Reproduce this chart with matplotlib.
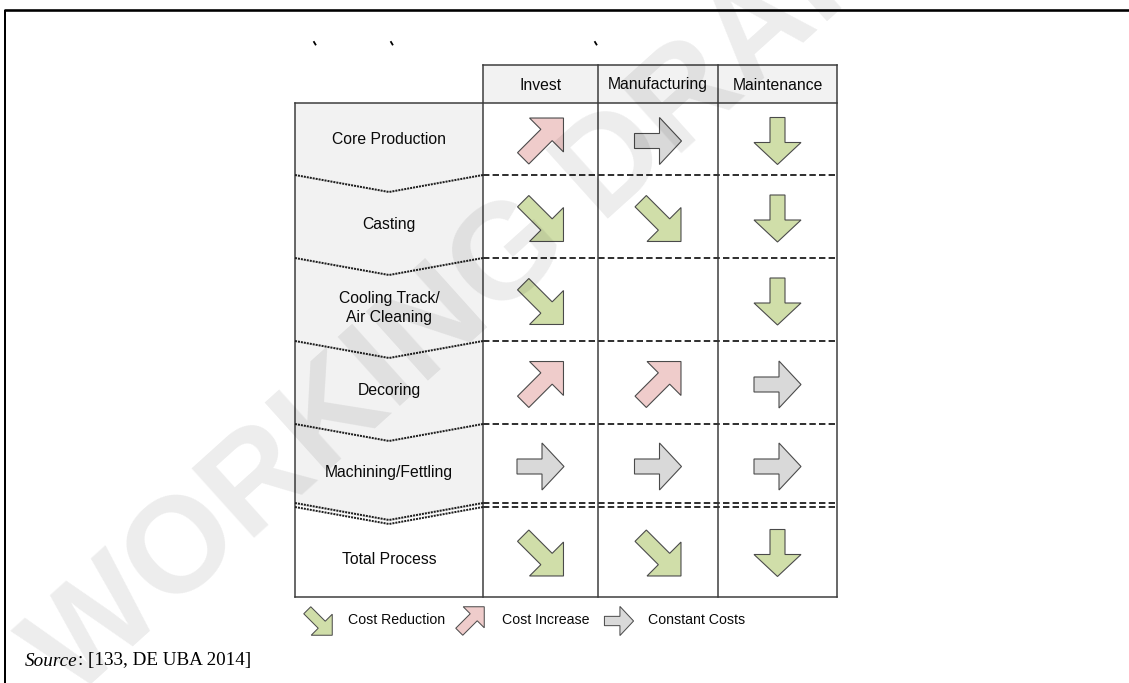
import numpy as np
import matplotlib
matplotlib.use('Agg')
import matplotlib.pyplot as plt
from matplotlib.patches import Polygon, Rectangle

# ---------------- data ----------------
steps = ['Core Production', 'Casting', 'Cooling Track/\nAir Cleaning',
         'Decoring', 'Machining/Fettling', 'Total Process']
cost_types = ['Invest', 'Manufacturing', 'Maintenance']
# arrow direction per cell: 'se'/'s' = cost reduction, 'ne' = cost increase, 'e' = constant
invest = ['ne', 'se', 'se', 'ne', 'e', 'se']
manufacturing = ['e', 'se', None, 'ne', 'e', 'se']
maintenance = ['s', 's', 's', 'e', 'e', 's']
legend_labels = ['Cost Reduction', 'Cost Increase', 'Constant Costs']
legend_dirs = ['se', 'ne', 'e']
source_ref = ': [133, DE UBA 2014]'
watermark = 'WORKING DRAFT'

# ---------------- style / layout ----------------
W, H = 1129, 683
PX = 0.72  # points per pixel at dpi 100
FILL = {'se': '#d0dea9', 's': '#d0dea9', 'ne': '#efcccb', 'e': '#d9d9d9'}
EDGE = '#4a4a4a'
LINE = '#3a3a3a'
CELL_GREY = '#f2f2f2'
SANS = ['Liberation Sans', 'DejaVu Sans']
TXT = '#0a0a0a'

left_x0, left_x1 = 295, 483
col_edges = [483, 598, 718, 837]
header_top, header_bot = 65, 103
row_edges = [103, 175, 258, 341, 424, 505, 597]
chev = 17

fig = plt.figure(figsize=(W / 100, H / 100), dpi=100)
ax = fig.add_axes([0, 0, 1, 1])
ax.set_xlim(0, W)
ax.set_ylim(H, 0)
ax.axis('off')

# outer page frame
ax.plot([4, W], [9.5, 9.5], color='black', lw=2.6 * PX, solid_capstyle='butt')
ax.plot([5, 5], [9.5, H], color='black', lw=2.0 * PX, solid_capstyle='butt')

# stray text remnants at top
for x in [314, 391, 595]:
    ax.plot([x, x + 1.5], [42, 44.5], color='black', lw=1.8 * PX)


def arrow_poly(cx, cy, d, scale=1.0):
    if d in ('se', 'ne'):
        L, hl, hw, sw = 57, 24, 24, 8
    else:
        L, hl, hw, sw = 47, 22, 23.5, 7.5
    L, hl, hw, sw = L * scale, hl * scale, hw * scale, sw * scale
    vec = {'e': (1, 0), 's': (0, 1), 'se': (1, 1), 'ne': (1, -1)}[d]
    u = np.array(vec, float)
    u /= np.linalg.norm(u)
    v = np.array([-u[1], u[0]])
    local = [(-L / 2, -sw), (L / 2 - hl, -sw), (L / 2 - hl, -hw), (L / 2, 0),
             (L / 2 - hl, hw), (L / 2 - hl, sw), (-L / 2, sw)]
    pts = np.array([a * u + b * v for a, b in local])
    bb_c = (pts.min(axis=0) + pts.max(axis=0)) / 2
    pts = pts - bb_c + np.array([cx, cy])
    return pts


def draw_arrow(cx, cy, d, scale=1.0, lw=1.1):
    pts = arrow_poly(cx, cy, d, scale)
    ax.add_patch(Polygon(pts, closed=True, facecolor=FILL[d], edgecolor=EDGE,
                         lw=lw * PX, joinstyle='miter', zorder=4))


# left column grey fill (rows 1-5 down to chevron above Total Process)
cx_mid = (left_x0 + left_x1) / 2
ax.add_patch(Polygon([(left_x0, row_edges[0]), (left_x1, row_edges[0]),
                      (left_x1, row_edges[5]), (cx_mid, row_edges[5] + chev),
                      (left_x0, row_edges[5])], closed=True,
                     facecolor=CELL_GREY, edgecolor='none', zorder=1))

# header cells
for i, name in enumerate(cost_types):
    x0, x1 = col_edges[i], col_edges[i + 1]
    ax.add_patch(Rectangle((x0, header_top), x1 - x0, header_bot - header_top,
                           facecolor=CELL_GREY, edgecolor='none', zorder=1))
    ax.text((x0 + x1) / 2, (header_top + header_bot) / 2 + 1, name,
            ha='center', va='center', fontsize=11.3, family=SANS,
            color=TXT, zorder=5)

# table outline lines
lwT = 1.5 * PX
ax.plot([col_edges[0], col_edges[-1]], [header_top, header_top], color=LINE, lw=lwT, zorder=3)
ax.plot([left_x0, col_edges[-1]], [header_bot, header_bot], color=LINE, lw=lwT, zorder=3)
ax.plot([left_x0, col_edges[-1]], [row_edges[-1], row_edges[-1]], color=LINE, lw=lwT, zorder=3)
ax.plot([left_x0, left_x0], [header_bot, row_edges[-1]], color=LINE, lw=lwT, zorder=3)
for x in col_edges:
    ax.plot([x, x], [header_top, row_edges[-1]], color=LINE, lw=lwT, zorder=3)

# row separators: chevrons in left column, dashed across cells
for k, y in enumerate(row_edges[1:-1]):
    offs = [0] if k < 4 else [-2, 2]
    for o in offs:
        ax.plot([left_x0, cx_mid, left_x1], [y + o, y + chev + o, y + o],
                color='#1e1e1e', lw=2.0 * PX, ls=(0, (1.0, 0.5)), zorder=3)
        ax.plot([col_edges[0], col_edges[-1]], [y + o, y + o], color='#333333',
                lw=2.0 * PX, ls=(0, (3.2, 1.6)), zorder=3)

# row labels and arrows
cols = [invest, manufacturing, maintenance]
for r, label in enumerate(steps):
    top = row_edges[r] + (chev if r > 0 else 0)
    bot = row_edges[r + 1]
    ax.text(cx_mid, (top + bot) / 2, label, ha='center', va='center',
            fontsize=11.3, family=SANS, color=TXT, linespacing=1.3,
            zorder=5)
    cy = (row_edges[r] + row_edges[r + 1]) / 2 + 2
    for c, col in enumerate(cols):
        d = col[r]
        if d is None:
            continue
        cx = (col_edges[c] + col_edges[c + 1]) / 2
        draw_arrow(cx, cy, d)

# legend
leg_y = 620
leg_arrow_x = [318, 470, 619]
leg_text_x = [348, 502, 648]
for d, lab, ax_x, tx in zip(legend_dirs, legend_labels, leg_arrow_x, leg_text_x):
    draw_arrow(ax_x, leg_y + 1, d, scale=0.62, lw=1.0)
    ax.text(tx, leg_y, lab, ha='left', va='center', fontsize=10.2,
            family=SANS, color=TXT, zorder=5)

# source line
t1 = ax.text(25, 661, 'Source', ha='left', va='center', fontsize=13.8,
             family='Liberation Serif', style='italic', color='black')
fig.canvas.draw()
bb = t1.get_window_extent(renderer=fig.canvas.get_renderer())
x_end = ax.transData.inverted().transform((bb.x1, bb.y0))[0]
ax.text(x_end, 661, source_ref, ha='left', va='center', fontsize=13.8,
        family='Liberation Serif', color='black')

# watermark
ax.text(485, 282, watermark, ha='center', va='center', rotation=42,
        fontsize=98, family='Liberation Sans', weight='bold', color='black',
        alpha=0.075, zorder=10)

fig.savefig('out.png', dpi=100)
